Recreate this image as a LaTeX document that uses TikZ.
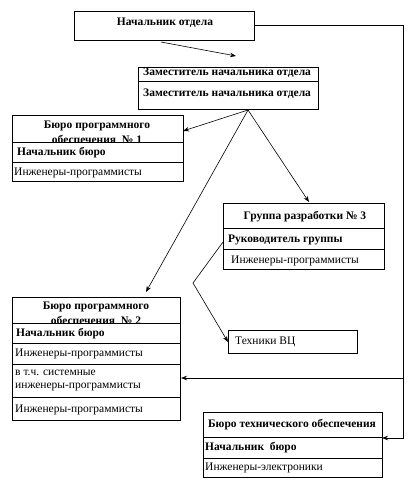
\documentclass[tikz,border=0pt]{standalone}
\usepackage{fontspec}
\setmainfont{Liberation Serif}
\usetikzlibrary{arrows.meta}
\begin{document}
\begin{tikzpicture}[x=1pt,y=-1pt,
  box/.style={draw, line width=0.8pt, inner sep=0, anchor=north west},
  bt/.style={font=\bfseries\fontsize{11.5}{14}\selectfont, inner sep=0},
  nt/.style={font=\fontsize{11.5}{13}\selectfont, inner sep=0},
  lt/.style={anchor=west},
  div/.style={line width=0.8pt},
  con/.style={line width=0.6pt},
  arr/.style={con,-{Stealth[length=6pt,width=4.5pt]}}]
\useasboundingbox (0,0) rectangle (410,485);

% boxes
\node[box, minimum width=180pt, minimum height=29pt] (head) at (74,11) {};
\node[box, minimum width=180pt, minimum height=42pt] (dep) at (138,67) {};
\node[box, minimum width=171pt, minimum height=66pt] (bu1) at (12,115) {};
\node[box, minimum width=161pt, minimum height=66pt] (gr3) at (223,203) {};
\node[box, minimum width=129pt, minimum height=23pt] (tech) at (228,330) {};
\node[box, minimum width=168pt, minimum height=123pt] (bu2) at (12,297) {};
\node[box, minimum width=179pt, minimum height=65pt] (bte) at (203,412) {};

% dividers
\draw[div] (138,81) -- (318,81);
\draw[div] (12,142) -- (183,142);
\draw[div] (12,162) -- (183,162);
\draw[div] (223,228) -- (384,228);
\draw[div] (223,249) -- (384,249);
\draw[div] (12,323) -- (180,323);
\draw[div] (12,343) -- (180,343);
\draw[div] (12,364) -- (180,364);
\draw[div] (12,397) -- (180,397);
\draw[div] (203,437) -- (382,437);
\draw[div] (203,458) -- (382,458);

% texts
\node[bt] (t-head) at (165,23) {Начальник отдела};
\node[bt,lt] (t-dep1) at (143,73) {Заместитель начальника отдела};
\node[bt,lt] (t-dep2) at (143,94) {Заместитель начальника отдела};

\begin{scope}
\clip (12,115) rectangle (183,142);
\node[bt,anchor=base] (t-bu1) at (97,128) {Бюро программного};
\node[bt,anchor=base] (t-bu1x) at (97,143) {обеспечения \ № 1};
\end{scope}
\node[bt,lt] (t-bu1a) at (17,153) {Начальник бюро};
\node[nt,lt] (t-bu1b) at (14,173) {Инженеры-программисты};

\node[bt] (t-gr3) at (305,217) {Группа разработки № 3};
\node[bt,lt] (t-gr3a) at (228,240) {Руководитель группы};
\node[nt,lt] (t-gr3b) at (231,261) {Инженеры-программисты};

\node[nt,lt] (t-tech) at (235,342) {Техники ВЦ};

\begin{scope}
\clip (12,297) rectangle (180,323);
\node[bt,anchor=base] (t-bu2) at (96,309) {Бюро программного};
\node[bt,anchor=base] (t-bu2x) at (96,324) {обеспечения \ № 2};
\end{scope}
\node[bt,lt] (t-bu2a) at (16,334) {Начальник бюро};
\node[nt,lt] (t-bu2b) at (15,354) {Инженеры-программисты};
\node[nt,lt,align=left] (t-bu2c) at (15,381) {в т.ч. системные\\инженеры-программисты};
\node[nt,lt] (t-bu2d) at (15,410) {Инженеры-программисты};

\node[bt] (t-bte) at (292,425) {Бюро технического обеспечения};
\node[bt,lt] (t-btea) at (205,448) {Начальник \ бюро};
\node[nt,lt] (t-bteb) at (205,468) {Инженеры-электроники};

% connector points
\coordinate (h-out) at (161,42);
\coordinate (d-in) at (236,56);
\coordinate (apex) at (248,110);
\coordinate (bu1-in) at (183,131);
\coordinate (gr3-in) at (309,202);
\coordinate (bu2-in) at (146,292);
\coordinate (g-out) at (223,242);
\coordinate (bend) at (193,283);
\coordinate (tech-in) at (228,342);
\coordinate (h-r) at (254,25);
\coordinate (corner) at (403,25);
\coordinate (split) at (403,378);
\coordinate (bu2-r) at (181,378);
\coordinate (bot) at (403,438);
\coordinate (bte-in) at (382,438);

% connectors
\draw[arr] (h-out) -- (d-in);
\draw[arr] (apex) -- (bu1-in);
\draw[arr] (apex) -- (gr3-in);
\draw[arr] (apex) -- (bu2-in);
\draw[arr] (g-out) -- (bend) -- (tech-in);
\draw[con] (h-r) -- (corner) -- (split);
\draw[arr] (split) -- (bu2-r);
\draw[arr] (split) -- (bot) -- (bte-in);
\end{tikzpicture}
\end{document}
